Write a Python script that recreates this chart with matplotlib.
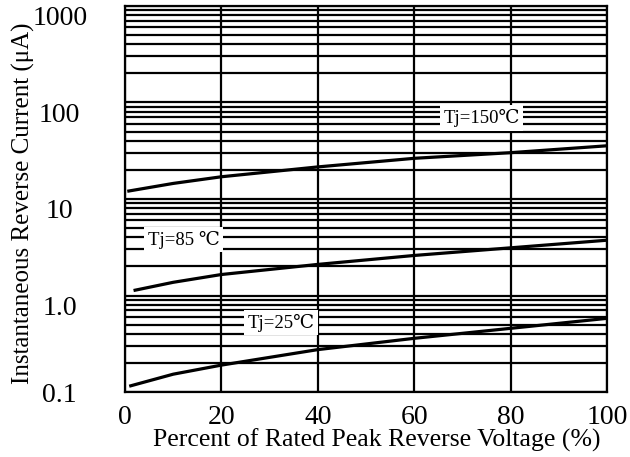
import matplotlib.pyplot as plt
import matplotlib.transforms as mtransforms
import numpy as np

# percent of rated peak reverse voltage vs reverse current (uA)
x_150 = [0.8, 10, 20, 40, 60, 80, 100]
i_150 = [12.1, 14.5, 17.0, 21.5, 26.4, 30.2, 35.6]

x_85 = [2.1, 10, 20, 40, 60, 80, 100]
i_85 = [1.135, 1.37, 1.65, 2.1, 2.6, 3.12, 3.74]

x_25 = [1.2, 10, 20, 40, 60, 80, 100]
i_25 = [0.116, 0.153, 0.19, 0.275, 0.36, 0.457, 0.58]

x_ticks = [0, 20, 40, 60, 80, 100]
y_ticks = [0.1, 1, 10, 100, 1000]
y_labels = ['0.1', '1.0', '10', '100', '1000']

plt.rcParams['font.family'] = ['Liberation Serif', 'DejaVu Serif']

fig = plt.figure(figsize=(6.3, 4.57), dpi=100)
ax = fig.add_axes([0.1984, 0.1422, 0.7651, 0.8447])

for xs, ys in [(x_150, i_150), (x_85, i_85), (x_25, i_25)]:
    ax.plot(xs, ys, color='black', lw=2.3, zorder=3)

ax.set_yscale('log')
ax.set_xlim(0, 100)
ax.set_ylim(0.1, 1000)
ax.set_xticks(x_ticks)
ax.set_yticks(y_ticks)
ax.set_yticklabels(y_labels)
ax.yaxis.set_minor_locator(plt.matplotlib.ticker.LogLocator(base=10, subs=np.arange(2, 10)))
ax.yaxis.set_minor_formatter(plt.NullFormatter())
ax.tick_params(which='both', length=0, labelsize=20)
ax.tick_params(axis='x', pad=9)
ax.tick_params(axis='y', pad=47)

# y labels sit centred, most of them a bit below their grid line
down = mtransforms.ScaledTranslation(0, -7 / 72, fig.dpi_scale_trans)
for lab, val in zip(ax.get_yticklabels(), y_ticks):
    lab.set_horizontalalignment('center')
    if val != 0.1:
        lab.set_transform(lab.get_transform() + down)

ax.grid(which='major', color='black', lw=1.6)
ax.grid(which='minor', axis='y', color='black', lw=1.6)
ax.set_axisbelow(True)
for s in ax.spines.values():
    s.set_linewidth(1.6)

box = dict(facecolor='white', edgecolor='none', pad=2.5)
ax.text(74, 69, 'Tj=150℃', fontsize=13.5, ha='center', va='center', bbox=box, zorder=4)
ax.text(12.2, 3.8, 'Tj=85 ℃', fontsize=13.5, ha='center', va='center', bbox=box, zorder=4)
ax.text(32.4, 0.525, 'Tj=25℃', fontsize=13.5, ha='center', va='center', bbox=box, zorder=4)

ax.set_xlabel('Percent of Rated Peak Reverse Voltage (%)', fontsize=18.5, va='center')
ax.xaxis.set_label_coords(0.523, -0.126)
ax.set_ylabel('Instantaneous Reverse Current (μA)', fontsize=18, va='center')
ax.yaxis.set_label_coords(-0.21, 0.49)

fig.savefig('out.png', dpi=100)
